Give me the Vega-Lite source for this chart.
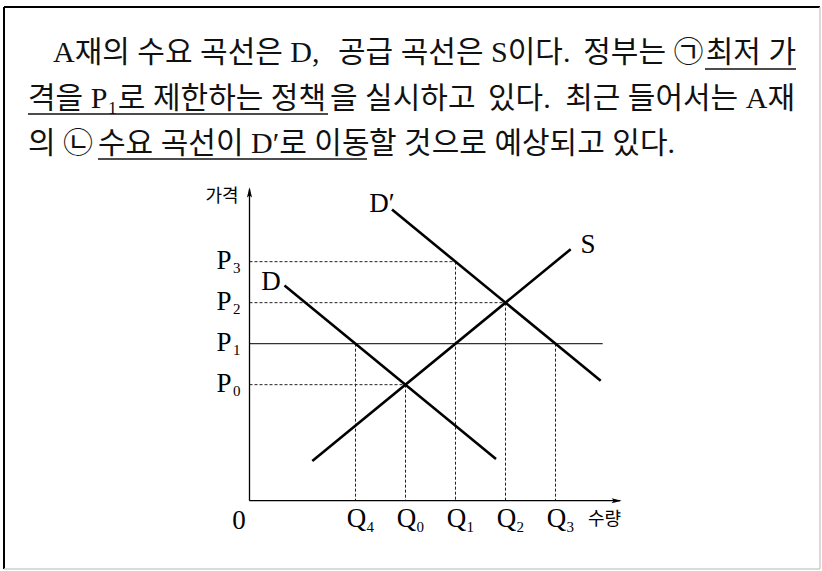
{
  "$schema": "https://vega.github.io/schema/vega-lite/v6.json",
  "width": 822,
  "height": 571,
  "autosize": {"type": "fit", "contains": "padding"},
  "padding": 0,
  "background": "white",
  "config": {"view": {"stroke": null}},
  "datasets": {
    "frame_dark": [
      {"q1": -4.91, "q2": -4.91, "p1": 12.04, "p2": -1.666},
      {"q1": -4.91, "q2": 11.41, "p1": 12.04, "p2": 12.04}
    ],
    "frame_light": [
      {"q1": 11.41, "q2": 11.41, "p1": 12.04, "p2": -1.666},
      {"q1": -4.91, "q2": 11.41, "p1": -1.666, "p2": -1.666}
    ],
    "text_left": [
      {"t": "A재의 수요 곡선은 D,", "q": -3.93, "p": 10.70},
      {"t": "공급 곡선은 S이다.", "q": 1.77, "p": 10.70},
      {"t": "격을 P₁로 제한하는 정책", "q": -4.43, "p": 9.578},
      {"t": "을 실시하고", "q": 1.61, "p": 9.578},
      {"t": "있다.", "q": 4.77, "p": 9.578},
      {"t": "의 ㉡", "q": -4.43, "p": 8.48},
      {"t": "수요 곡선이 D′로 이동", "q": -3.03, "p": 8.48},
      {"t": "할 것으로 예상되고 있다.", "q": 2.39, "p": 8.48}
    ],
    "text_right": [
      {"t": "정부는 ㉠", "q": 9.08, "p": 10.70},
      {"t": "최저 가", "q": 10.93, "p": 10.70},
      {"t": "최근 들어서는 A재", "q": 10.91, "p": 9.578}
    ],
    "underlines": [
      {"q1": 9.11, "q2": 10.93, "p": 10.529},
      {"q1": -4.43, "q2": 1.57, "p": 9.432},
      {"q1": -3.03, "q2": 2.35, "p": 8.334}
    ],
    "axes": [
      {"name": "가격", "q0": 0, "p0": 0, "q": 0, "p": 7.6},
      {"name": "수량", "q0": 0, "p0": 0, "q": 7.41, "p": 0}
    ],
    "ceiling": [
      {"name": "P1", "q1": 0, "q2": 7.064, "p": 3.83}
    ],
    "dashes": [
      {"q1": 0, "q2": 4.12, "p1": 5.83, "p2": 5.83},
      {"q1": 4.12, "q2": 4.12, "p1": 5.83, "p2": 0},
      {"q1": 0, "q2": 5.12, "p1": 4.83, "p2": 4.83},
      {"q1": 5.12, "q2": 5.12, "p1": 4.83, "p2": 0},
      {"q1": 0, "q2": 3.12, "p1": 2.83, "p2": 2.83},
      {"q1": 3.12, "q2": 3.12, "p1": 2.83, "p2": 0},
      {"q1": 2.12, "q2": 2.12, "p1": 3.83, "p2": 0},
      {"q1": 6.12, "q2": 6.12, "p1": 3.83, "p2": 0}
    ],
    "curves": [
      {"curve": "D", "q": 0.7, "p": 5.25},
      {"curve": "D", "q": 4.93, "p": 1.02},
      {"curve": "S", "q": 1.256, "p": 0.966},
      {"curve": "S", "q": 6.424, "p": 6.134},
      {"curve": "D′", "q": 2.85, "p": 7.1},
      {"curve": "D′", "q": 7.024, "p": 2.926}
    ],
    "curve_labels": [
      {"curve": "D", "q": 0.43, "p": 5.139},
      {"curve": "D′", "q": 2.65, "p": 7.049},
      {"curve": "S", "q": 6.77, "p": 6.04}
    ],
    "plevels": [
      {"k": "0", "q": 0, "p": 2.83},
      {"k": "1", "q": 0, "p": 3.83},
      {"k": "2", "q": 0, "p": 4.83},
      {"k": "3", "q": 0, "p": 5.83}
    ],
    "qlevels": [
      {"k": "4", "q": 2.12, "p": 0},
      {"k": "0", "q": 3.12, "p": 0},
      {"k": "1", "q": 4.12, "p": 0},
      {"k": "2", "q": 5.12, "p": 0},
      {"k": "3", "q": 6.12, "p": 0}
    ],
    "origin": [
      {"label": "0", "q": 0, "p": 0}
    ]
  },
  "layer": [
    {
      "data": {"name": "frame_dark"},
      "mark": {"type": "rule", "color": "#000000", "strokeWidth": 2},
      "encoding": {
        "x": {"field": "q1", "type": "quantitative", "scale": {"domain": [-4.99, 11.45], "nice": false, "zero": false}, "axis": null},
        "x2": {"field": "q2"},
        "y": {"field": "p1", "type": "quantitative", "scale": {"domain": [-1.7146, 12.2122], "nice": false, "zero": false}, "axis": null},
        "y2": {"field": "p2"}
      }
    },
    {
      "data": {"name": "frame_light"},
      "mark": {"type": "rule", "color": "#cfcfcf", "strokeWidth": 1.5},
      "encoding": {
        "x": {"field": "q1", "type": "quantitative", "axis": null},
        "x2": {"field": "q2"},
        "y": {"field": "p1", "type": "quantitative", "axis": null},
        "y2": {"field": "p2"}
      }
    },
    {
      "data": {"name": "text_left"},
      "mark": {"type": "text", "align": "left", "baseline": "alphabetic", "font": "Liberation Serif, Noto Sans CJK KR", "fontSize": 30, "color": "#111111"},
      "encoding": {
        "x": {"field": "q", "type": "quantitative", "axis": null},
        "y": {"field": "p", "type": "quantitative", "axis": null},
        "text": {"field": "t"}
      }
    },
    {
      "data": {"name": "text_right"},
      "mark": {"type": "text", "align": "right", "baseline": "alphabetic", "font": "Liberation Serif, Noto Sans CJK KR", "fontSize": 30, "color": "#111111"},
      "encoding": {
        "x": {"field": "q", "type": "quantitative", "axis": null},
        "y": {"field": "p", "type": "quantitative", "axis": null},
        "text": {"field": "t"}
      }
    },
    {
      "data": {"name": "underlines"},
      "mark": {"type": "rule", "color": "#111111", "strokeWidth": 1.4},
      "encoding": {
        "x": {"field": "q1", "type": "quantitative", "axis": null},
        "x2": {"field": "q2"},
        "y": {"field": "p", "type": "quantitative", "axis": null}
      }
    },
    {
      "data": {"name": "dashes"},
      "mark": {"type": "rule", "color": "#222222", "strokeWidth": 1, "strokeDash": [3, 2]},
      "encoding": {
        "x": {"field": "q1", "type": "quantitative", "axis": null},
        "x2": {"field": "q2"},
        "y": {"field": "p1", "type": "quantitative", "axis": null},
        "y2": {"field": "p2"}
      }
    },
    {
      "data": {"name": "ceiling"},
      "mark": {"type": "rule", "color": "#333333", "strokeWidth": 1.3},
      "encoding": {
        "x": {"field": "q1", "type": "quantitative", "axis": null},
        "x2": {"field": "q2"},
        "y": {"field": "p", "type": "quantitative", "axis": null}
      }
    },
    {
      "data": {"name": "axes"},
      "mark": {"type": "rule", "color": "#000000", "strokeWidth": 1.3},
      "encoding": {
        "x": {"field": "q0", "type": "quantitative", "axis": null},
        "x2": {"field": "q"},
        "y": {"field": "p0", "type": "quantitative", "axis": null},
        "y2": {"field": "p"}
      }
    },
    {
      "data": {"name": "axes"},
      "mark": {"type": "point", "filled": true, "color": "#000000", "opacity": 1, "size": 36, "strokeWidth": 0},
      "encoding": {
        "x": {"field": "q", "type": "quantitative", "axis": null},
        "y": {"field": "p", "type": "quantitative", "axis": null},
        "shape": {
          "field": "name",
          "type": "nominal",
          "legend": null,
          "scale": {"domain": ["가격", "수량"], "range": ["M0,-0.6 L0.85,2.8 L0,2.1 L-0.85,2.8 Z", "M0.6,0 L-2.8,0.85 L-2.1,0 L-2.8,-0.85 Z"]}
        }
      }
    },
    {
      "data": {"name": "curves"},
      "mark": {"type": "line", "color": "#000000", "strokeWidth": 2.6, "strokeCap": "butt"},
      "encoding": {
        "x": {"field": "q", "type": "quantitative", "axis": null},
        "y": {"field": "p", "type": "quantitative", "axis": null},
        "detail": {"field": "curve", "type": "nominal"}
      }
    },
    {
      "data": {"name": "curve_labels"},
      "mark": {"type": "text", "align": "center", "baseline": "alphabetic", "font": "Liberation Serif", "fontSize": 27, "color": "#000000"},
      "encoding": {
        "x": {"field": "q", "type": "quantitative", "axis": null},
        "y": {"field": "p", "type": "quantitative", "axis": null},
        "text": {"field": "curve", "type": "nominal"}
      }
    },
    {
      "data": {"name": "plevels"},
      "mark": {"type": "text", "align": "left", "baseline": "alphabetic", "font": "Liberation Serif", "fontSize": 27, "color": "#000000", "dx": -33, "dy": 7, "text": "P"},
      "encoding": {
        "x": {"field": "q", "type": "quantitative", "axis": null},
        "y": {"field": "p", "type": "quantitative", "axis": null}
      }
    },
    {
      "data": {"name": "plevels"},
      "mark": {"type": "text", "align": "left", "baseline": "alphabetic", "font": "Liberation Serif", "fontSize": 15, "color": "#000000", "dx": -16.5, "dy": 11.5},
      "encoding": {
        "x": {"field": "q", "type": "quantitative", "axis": null},
        "y": {"field": "p", "type": "quantitative", "axis": null},
        "text": {"field": "k", "type": "nominal"}
      }
    },
    {
      "data": {"name": "qlevels"},
      "mark": {"type": "text", "align": "center", "baseline": "alphabetic", "font": "Liberation Serif", "fontSize": 27, "color": "#000000", "dx": 1, "dy": 26.5, "text": "Q"},
      "encoding": {
        "x": {"field": "q", "type": "quantitative", "axis": null},
        "y": {"field": "p", "type": "quantitative", "axis": null}
      }
    },
    {
      "data": {"name": "qlevels"},
      "mark": {"type": "text", "align": "left", "baseline": "alphabetic", "font": "Liberation Serif", "fontSize": 15, "color": "#000000", "dx": 11, "dy": 31},
      "encoding": {
        "x": {"field": "q", "type": "quantitative", "axis": null},
        "y": {"field": "p", "type": "quantitative", "axis": null},
        "text": {"field": "k", "type": "nominal"}
      }
    },
    {
      "data": {"name": "origin"},
      "mark": {"type": "text", "align": "center", "baseline": "alphabetic", "font": "Liberation Serif", "fontSize": 27, "color": "#000000", "dx": -10.5, "dy": 28.5},
      "encoding": {
        "x": {"field": "q", "type": "quantitative", "axis": null},
        "y": {"field": "p", "type": "quantitative", "axis": null},
        "text": {"field": "label", "type": "nominal"}
      }
    },
    {
      "data": {"name": "axes"},
      "transform": [{"filter": "datum.name === '가격'"}],
      "mark": {"type": "text", "align": "right", "baseline": "middle", "font": "Noto Sans CJK KR", "fontSize": 18, "color": "#000000", "dx": -11, "dy": 8},
      "encoding": {
        "x": {"field": "q", "type": "quantitative", "axis": null},
        "y": {"field": "p", "type": "quantitative", "axis": null},
        "text": {"field": "name", "type": "nominal"}
      }
    },
    {
      "data": {"name": "axes"},
      "transform": [{"filter": "datum.name === '수량'"}],
      "mark": {"type": "text", "align": "right", "baseline": "middle", "font": "Noto Sans CJK KR", "fontSize": 18, "color": "#000000", "dx": 1, "dy": 19.5},
      "encoding": {
        "x": {"field": "q", "type": "quantitative", "axis": null},
        "y": {"field": "p", "type": "quantitative", "axis": null},
        "text": {"field": "name", "type": "nominal"}
      }
    }
  ]
}
